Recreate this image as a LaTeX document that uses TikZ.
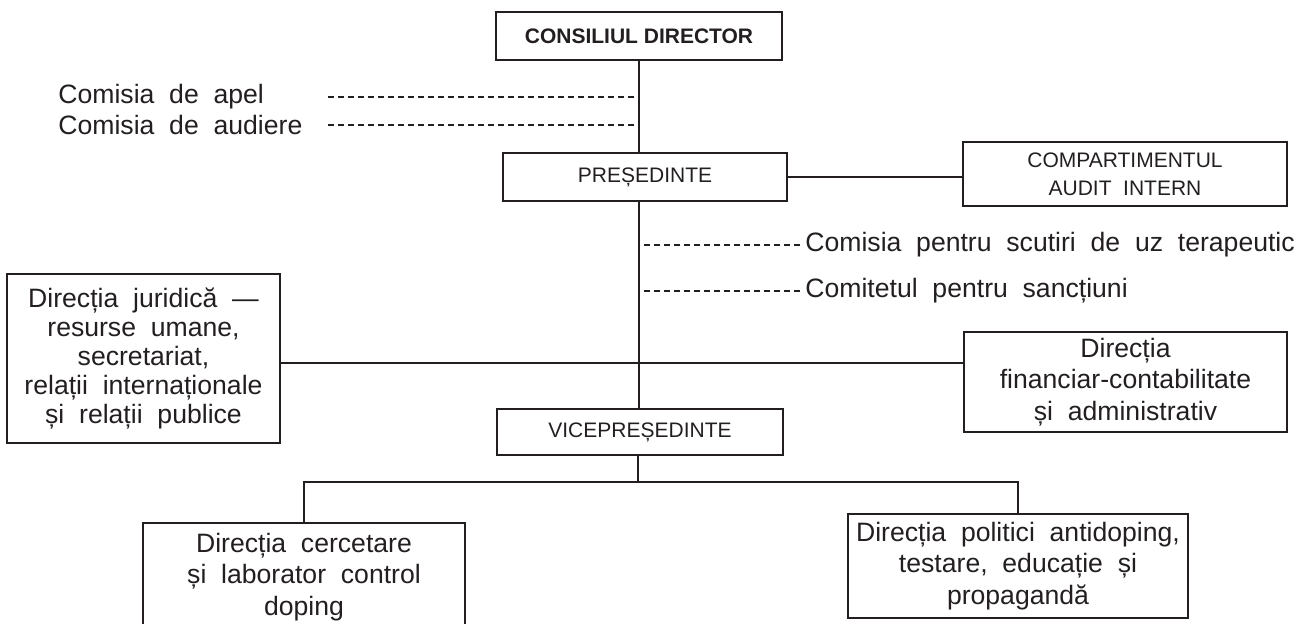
\documentclass[tikz,border=0pt]{standalone}
\usepackage{fontspec}
\setmainfont{Liberation Sans}[WordSpace=2, BoldFeatures={WordSpace=1}]
\usetikzlibrary{positioning, calc}
\definecolor{ink}{HTML}{231F20}
\tikzset{
	box/.style={draw=ink, line width=1pt, align=center, inner sep=0pt, text=ink}, % one unit of the agency
	big/.style={font=\fontsize{13.3}{15.75}\selectfont}, % the larger text
	small/.style={font=\fontsize{10.5}{14}\selectfont}, % the capitals in the boxes
	label/.style={text=ink, font=\fontsize{13.3}{15}\selectfont, inner sep=0pt}, % names of the committees
	link/.style={draw=ink, line width=0.9pt}, % solid lines
	comm/.style={draw=ink, line width=0.9pt, dash pattern=on 3pt off 2pt}, % dashed lines to the committees
}

\begin{document}
\begin{tikzpicture}[x=0.5pt, y=-0.5pt]
	\useasboundingbox (0,0) rectangle (1298,624);
	\clip (0,0) rectangle (1298,624);

	% top of the chart
	\node[box, small, font=\bfseries\fontsize{10.5}{14}\selectfont, minimum width=143pt, minimum height=24pt] (cd) at (639,36) {CONSILIUL DIRECTOR};
	\node[box, small, minimum width=142pt, minimum height=24pt] (pres) at (645,177) {PREȘEDINTE};
	\node[box, small, minimum width=162pt, minimum height=32pt] (comp) at (1125,174) {COMPARTIMENTUL\\AUDIT INTERN};
	\node[box, small, minimum width=143pt, minimum height=23pt] (vice) at (640,432) {VICEPREȘEDINTE};

	% directions
	\node[box, big, font=\fontsize{13.3}{14.4}\selectfont, minimum width=136.5pt, minimum height=84.5pt] (jur) at (143.5,358.5) {Direcția juridică ---\\resurse umane,\\secretariat,\\relații internaționale\\și relații publice};
	\node[box, big, minimum width=161.5pt, minimum height=50pt] (fin) at (1125.5,382) {Direcția\\financiar-contabilitate\\și administrativ};
	\node[box, big, minimum width=161pt, minimum height=54pt, anchor=north] (cerc) at (304,522) {Direcția cercetare\\și laborator control\\doping};
	\node[box, big, minimum width=170pt, minimum height=52pt] (pol) at (1018,566) {Direcția politici antidoping,\\testare, educație și\\propagandă};

	% committees
	\node[label, anchor=west] (apel) at (58,97) {Comisia de apel};
	\node[label, anchor=west] (aud) at (58,125) {Comisia de audiere};
	\node[label, anchor=west, inner xsep=2.5pt] (tue) at (800,245) {Comisia pentru scutiri de uz terapeutic};
	\node[label, anchor=west, inner xsep=2.5pt] (sanc) at (800,291) {Comitetul pentru sancțiuni};
	\coordinate (a1) at (328,97);
	\coordinate (a2) at (328,125);
	\coordinate (mid) at (638,363);
	\coordinate (fork) at (638,482);

	% lines
	\draw[link] (cd.south) -- (cd.south |- pres.north);
	\draw[link] (cd.south |- pres.south) -- (cd.south |- vice.north);
	\draw[link] (pres.east) -- (comp.west |- pres.east);
	\draw[link] (jur.east |- mid) -- (fin.west |- mid);
	\draw[link] (vice.south -| fork) -- (fork);
	\draw[link] (cerc.north) -- (cerc.north |- fork) -- (pol.north |- fork) -- (pol.north);

	\draw[comm] (a1) -- (a1 -| cd.south);
	\draw[comm] (a2) -- (a2 -| cd.south);
	\draw[comm] (tue.west) -- (tue.west -| cd.south);
	\draw[comm] (sanc.west) -- (sanc.west -| cd.south);

\end{tikzpicture}
\end{document}
